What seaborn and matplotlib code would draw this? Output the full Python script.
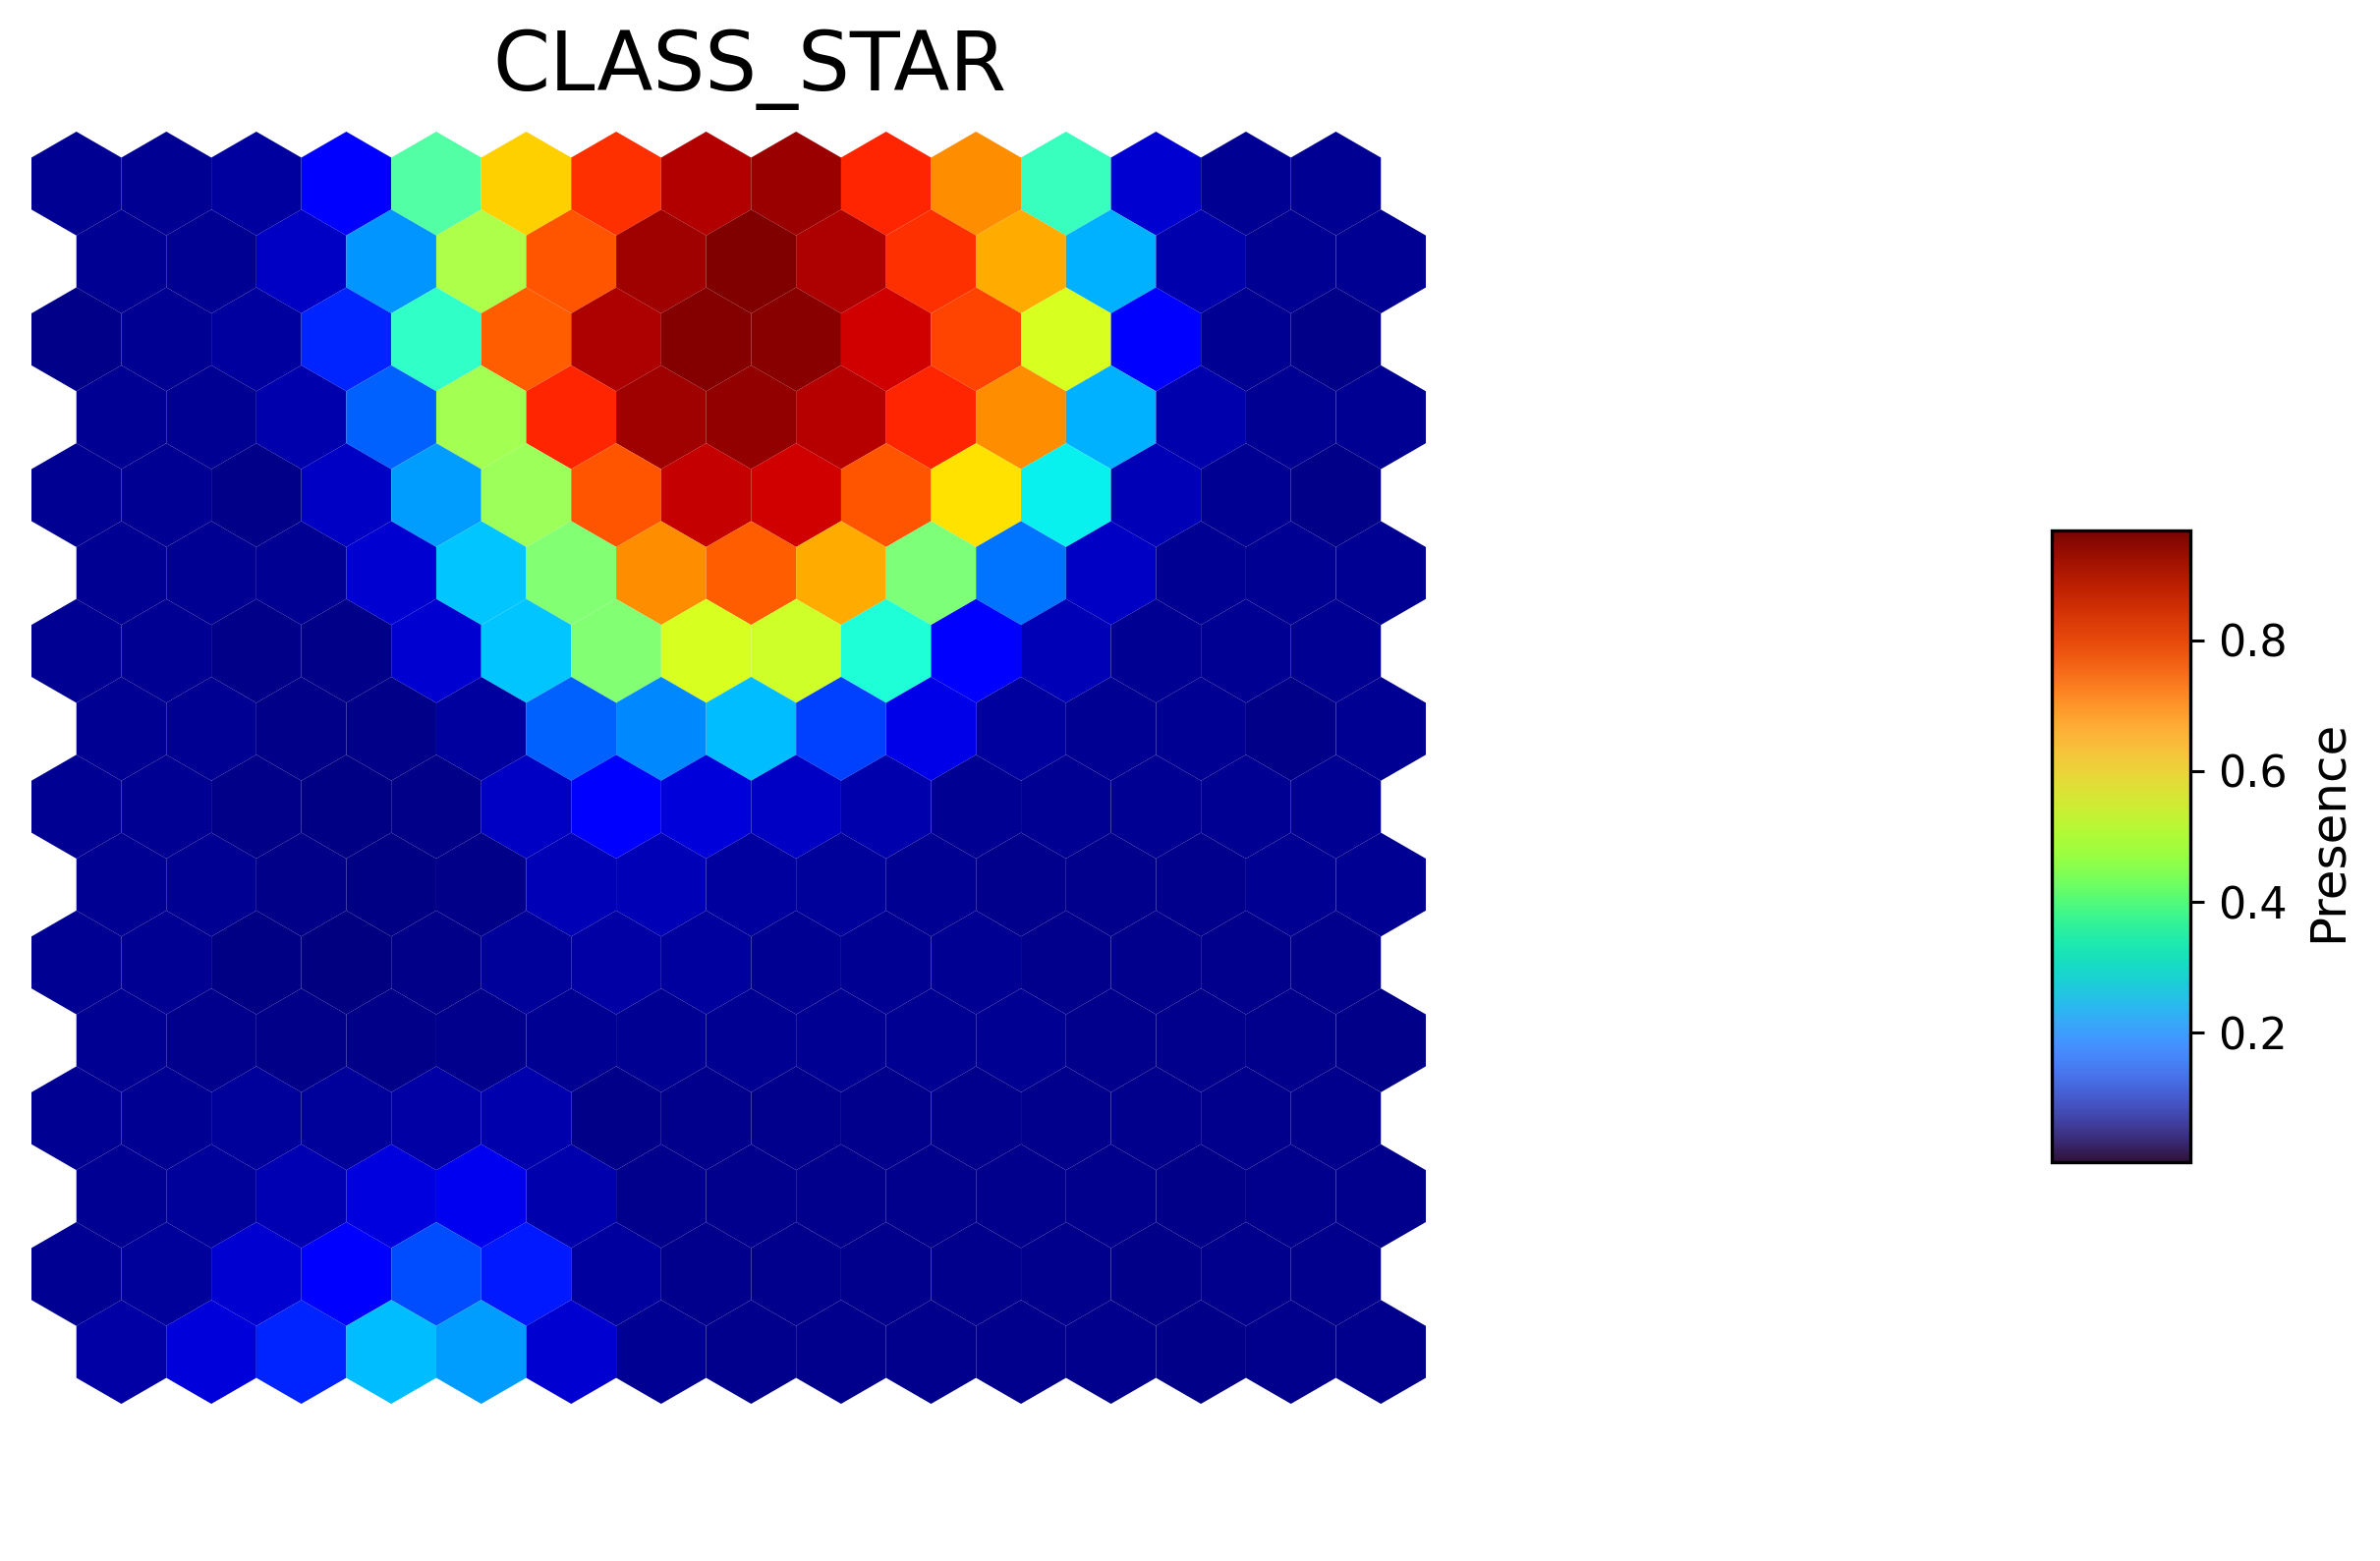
import numpy as np
import matplotlib
matplotlib.use("Agg")
import matplotlib.pyplot as plt
import seaborn as sns
from matplotlib.patches import RegularPolygon
from matplotlib.collections import PatchCollection
from matplotlib.colors import Normalize
from matplotlib.cm import ScalarMappable

sns.set_style("white")
plt.rcParams['font.family'] = ['DejaVu Sans']
plt.rcParams['text.color'] = 'black'
plt.rcParams['axes.labelcolor'] = 'black'
plt.rcParams['ytick.color'] = 'black'

# SOM component plane, rows from top to bottom, odd rows shifted half a cell right
title = "CLASS_STAR"
cbar_label = "Presence"
cbar_ticks = [0.2, 0.4, 0.6, 0.8]
presence = [
    [0.020, 0.020, 0.030, 0.109, 0.437, 0.668, 0.832, 0.924, 0.943, 0.842, 0.736, 0.408, 0.070, 0.020, 0.020],
    [0.020, 0.020, 0.060, 0.263, 0.543, 0.794, 0.938, 0.968, 0.928, 0.832, 0.707, 0.292, 0.041, 0.020, 0.020],
    [0.012, 0.020, 0.030, 0.157, 0.398, 0.784, 0.928, 0.962, 0.957, 0.900, 0.813, 0.591, 0.109, 0.020, 0.012],
    [0.020, 0.020, 0.041, 0.215, 0.533, 0.842, 0.938, 0.952, 0.919, 0.842, 0.736, 0.292, 0.041, 0.020, 0.020],
    [0.020, 0.020, 0.012, 0.060, 0.273, 0.524, 0.794, 0.909, 0.900, 0.794, 0.649, 0.350, 0.050, 0.020, 0.012],
    [0.020, 0.020, 0.020, 0.070, 0.311, 0.495, 0.736, 0.784, 0.707, 0.485, 0.234, 0.060, 0.020, 0.020, 0.020],
    [0.020, 0.020, 0.012, 0.012, 0.070, 0.311, 0.495, 0.591, 0.581, 0.379, 0.109, 0.050, 0.020, 0.020, 0.020],
    [0.020, 0.020, 0.012, 0.012, 0.030, 0.215, 0.254, 0.302, 0.186, 0.090, 0.030, 0.020, 0.020, 0.012, 0.020],
    [0.020, 0.020, 0.010, 0.006, 0.010, 0.060, 0.118, 0.080, 0.060, 0.040, 0.020, 0.020, 0.020, 0.020, 0.020],
    [0.020, 0.020, 0.010, 0.006, 0.010, 0.050, 0.050, 0.030, 0.025, 0.020, 0.015, 0.015, 0.015, 0.020, 0.020],
    [0.020, 0.020, 0.006, 0.002, 0.010, 0.025, 0.035, 0.030, 0.020, 0.020, 0.020, 0.015, 0.015, 0.015, 0.015],
    [0.020, 0.015, 0.010, 0.010, 0.015, 0.020, 0.020, 0.020, 0.020, 0.020, 0.020, 0.015, 0.015, 0.015, 0.010],
    [0.020, 0.020, 0.025, 0.025, 0.035, 0.040, 0.010, 0.015, 0.015, 0.015, 0.015, 0.015, 0.015, 0.015, 0.015],
    [0.020, 0.025, 0.045, 0.085, 0.100, 0.040, 0.015, 0.015, 0.015, 0.015, 0.015, 0.015, 0.010, 0.015, 0.015],
    [0.020, 0.025, 0.070, 0.118, 0.196, 0.147, 0.030, 0.015, 0.015, 0.015, 0.015, 0.015, 0.010, 0.015, 0.015],
    [0.035, 0.080, 0.157, 0.302, 0.273, 0.070, 0.020, 0.015, 0.015, 0.015, 0.015, 0.015, 0.010, 0.015, 0.015],
]

grid = np.array(presence)
n_rows, n_cols = grid.shape
radius = 1 / np.sqrt(3)
dy = np.sqrt(3) / 2

fig = plt.figure(figsize=(12.11, 7.945), dpi=200)
W, H = 2422, 1589

# map axes placed on the hex bounding box (pixels from reference)
ax = fig.add_axes([31 / W, (H - 1429) / H, 1421 / W, 1295 / H])

hexes = []
vals = []
for r in range(n_rows):
    for c in range(n_cols):
        x = c + 0.5 * (r % 2)
        y = -r * dy
        hexes.append(RegularPolygon((x, y), numVertices=6, radius=radius))
        vals.append(grid[r, c])

norm = Normalize(vmin=grid.min(), vmax=grid.max())
coll = PatchCollection(hexes, cmap=matplotlib.colormaps["jet"], norm=norm,
                       edgecolor='none', linewidth=0)
coll.set_array(np.array(vals))
ax.add_collection(coll)
ax.set_xlim(-0.5, n_cols)
ax.set_ylim(-(n_rows - 1) * dy - radius, radius)
ax.set_aspect('equal')
ax.axis('off')

fig.text(763 / W, 1 - 92 / H, title, fontsize=30, ha='center', va='baseline')

# colour bar
cax = fig.add_axes([2088 / W, (H - 1183) / H, 141 / W, 643 / H])
sm = ScalarMappable(norm=norm, cmap=sns.color_palette("turbo", as_cmap=True))
cb = fig.colorbar(sm, cax=cax, ticks=cbar_ticks)
cb.outline.set_linewidth(1.2)
cb.outline.set_edgecolor('black')
cax.tick_params(labelsize=16, length=5, width=1.1, direction='out', pad=5, colors='black')
cb.set_label(cbar_label, fontsize=18, labelpad=6)
cax.yaxis.label.set_y(0.525)

fig.savefig("out.png", dpi=200)
